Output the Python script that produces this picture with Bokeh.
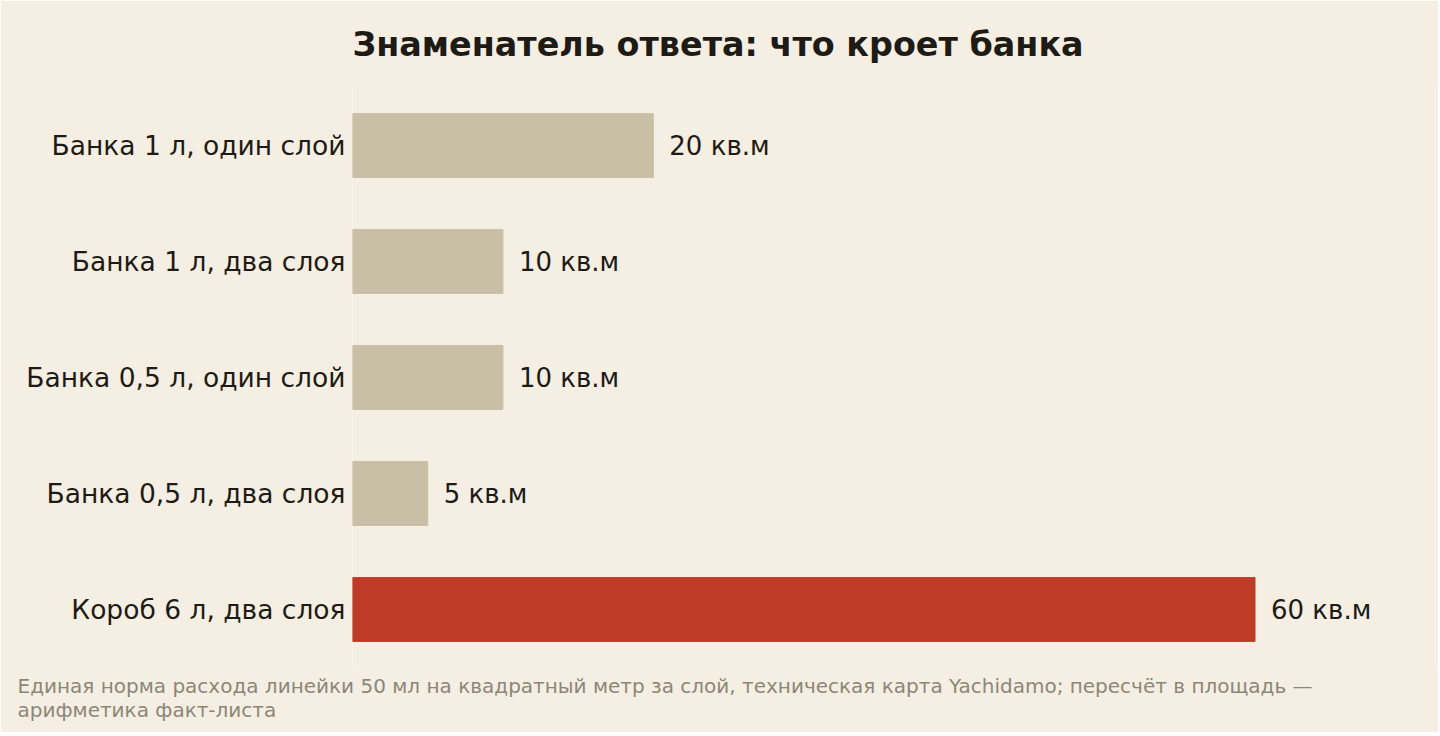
from bokeh.plotting import figure
from bokeh.models import ColumnDataSource, FactorRange, Range1d, Title, LabelSet
from bokeh.core.properties import value
from bokeh.embed import file_html
from bokeh.resources import INLINE

categories = ["Банка 1 л, один слой", "Банка 1 л, два слоя", "Банка 0,5 л, один слой",
              "Банка 0,5 л, два слоя", "Короб 6 л, два слоя"]
values = [20, 10, 10, 5, 60]
value_labels = ["20 кв.м", "10 кв.м", "10 кв.м", "5 кв.м", "60 кв.м"]
colors = ["#C9BFA6", "#C9BFA6", "#C9BFA6", "#C9BFA6", "#BE3B27"]

title_text = "Знаменатель ответа: что кроет банка"
footer_text = ("Единая норма расхода линейки 50 мл на квадратный метр за слой, техническая карта Yachidamo; пересчёт в площадь —\n"
               "арифметика факт-листа")

BG = "#F5EFE3"
INK = "#1E1B16"
FONT = "DejaVu Sans"

src = ColumnDataSource(dict(cat=categories, val=values, lab=value_labels, col=colors))

p = figure(width=1438, height=732, output_backend="svg", toolbar_location=None,
           y_range=FactorRange(*categories[::-1], range_padding=0),
           x_range=Range1d(0, 72),
           min_border_left=352, min_border_right=3, min_border_top=87, min_border_bottom=65)
p.background_fill_color = BG
p.border_fill_color = BG
p.outline_line_color = None

p.hbar(y="cat", right="val", left=0, height=0.55, color="col", source=src)

labels = LabelSet(x="val", y="cat", text="lab", source=src, x_offset=16,
                  text_baseline="middle", text_font=value(FONT), text_font_size="26px",
                  text_color=INK)
p.add_layout(labels)

p.title.text = title_text
p.title.text_font = FONT
p.title.text_font_size = "33.4px"
p.title.text_font_style = "bold"
p.title.text_color = INK
p.title.align = "left"
p.title.vertical_align = "top"
p.title.standoff = 43

footer = Title(text=footer_text, align="left", offset=-335, text_font=FONT,
               text_font_size="20px", text_font_style="normal", text_color="#8C8678",
               standoff=8)
p.add_layout(footer, "below")

p.xaxis.visible = False
p.yaxis.axis_line_color = None
p.yaxis.major_tick_line_color = None
p.yaxis.minor_tick_line_color = None
p.yaxis.major_label_text_font = FONT
p.yaxis.major_label_text_font_size = "26.5px"
p.yaxis.major_label_text_color = INK
p.yaxis.major_label_standoff = 1
p.xgrid.visible = False
p.ygrid.visible = False

open("out.html", "w").write(file_html(p, INLINE))
